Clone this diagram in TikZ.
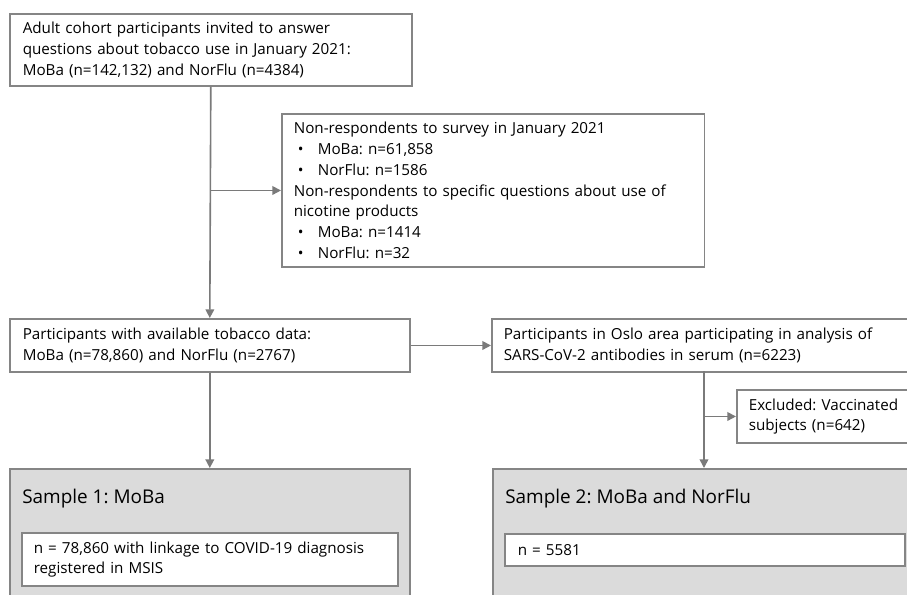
\documentclass[tikz,border=0pt]{standalone}
\usepackage{fontspec}
\setmainfont{Open Sans}
\usepackage{tikz}
\usetikzlibrary{positioning, arrows.meta, calc}
\definecolor{Frame}{HTML}{858585}
\definecolor{Link}{HTML}{7A7A7A}
\definecolor{Shade}{HTML}{DBDBDB}
\definecolor{Ink}{HTML}{000000}

\newcommand{\bulletitem}[1]{\hspace*{3pt}\makebox[15pt][l]{•}#1}

\begin{document}
\frenchspacing
\begin{tikzpicture}[
      x=0.75pt, y=-0.75pt,
      font=\fontsize{11.4}{15.6}\selectfont,
      flowBox/.style={
        draw=Frame, line width=1.2pt, fill=white, text=Ink,
        anchor=north west, align=left, inner xsep=9pt, inner ysep=2pt
      },
      sampleBox/.style={
        draw=Frame, line width=1.2pt, fill=Shade,
        anchor=north west, inner sep=0pt
      },
      sampleTitle/.style={
        anchor=west, text=Ink, inner sep=0pt,
        font=\fontsize{14.2}{17}\selectfont
      },
      link/.style={draw=Link, line width=1.2pt},
      linkArrow/.style={
        link, -{Triangle[length=6.5pt, width=6.5pt]}
      }
    ]
      \useasboundingbox (0,0) rectangle (907,594);
      \clip (0,0) rectangle (907,594);

      % flow boxes
      \node[flowBox, text width=282pt, minimum height=54pt, inner xsep=9.75pt] (invited) at (9,13)
        {Adult cohort participants invited to answer\\
         questions about tobacco use in January 2021:\\
         MoBa (n=142,132) and NorFlu (n=4384)};
      \node[flowBox, text width=299pt, minimum height=115pt] (nonresp) at (281,113)
        {Non-respondents to survey in January 2021\\
         \bulletitem{MoBa: n=61,858}\\
         \bulletitem{NorFlu: n=1586}\\
         Non-respondents to specific questions about use of\\
         nicotine products\\
         \bulletitem{MoBa: n=1414}\\
         \bulletitem{NorFlu: n=32}};
      \node[flowBox, text width=280.5pt, minimum height=40pt, inner xsep=9.75pt] (tobacco) at (9,318)
        {Participants with available tobacco data:\\
         MoBa (n=78,860) and NorFlu (n=2767)};
      \node[flowBox, text width=300pt, minimum height=40pt] (oslo) at (491,318)
        {Participants in Oslo area participating in analysis of\\
         SARS-CoV-2 antibodies in serum (n=6223)};
      \node[flowBox, text width=115pt, minimum height=40pt] (excluded) at (736,389)
        {Excluded: Vaccinated\\
         subjects (n=642)};

      % sample boxes
      \node[sampleBox, minimum width=300pt, minimum height=100pt] (sampleOne) at (9,468) {};
      \node[sampleBox, minimum width=320pt, minimum height=100pt] (sampleTwo) at (492,468) {};
      \node[sampleTitle] (titleOne) at (22,499) {Sample 1: MoBa};
      \node[sampleTitle] (titleTwo) at (505,499) {Sample 2: MoBa and NorFlu};
      \node[flowBox, text width=264pt, minimum height=40pt] (countOne) at (21,532)
        {n = 78,860 with linkage to COVID-19 diagnosis\\
         registered in MSIS};
      \node[flowBox, text width=280.5pt, minimum height=24pt, inner xsep=9.75pt] (countTwo) at (504,533)
        {n = 5581};

      % connectors
      \coordinate (osloDrop) at (704,371);
      \draw[linkArrow] (invited.south) -- (tobacco.north);
      \draw[linkArrow] (invited.south |- nonresp.west) -- (nonresp.west);
      \draw[linkArrow] (tobacco.east) -- (tobacco.east -| oslo.west);
      \draw[linkArrow] (tobacco.south) -- (sampleOne.north);
      \draw[linkArrow] (osloDrop) -- (osloDrop |- sampleTwo.north);
      \draw[linkArrow] (osloDrop |- excluded.west) -- (excluded.west);
    \end{tikzpicture}
\end{document}
